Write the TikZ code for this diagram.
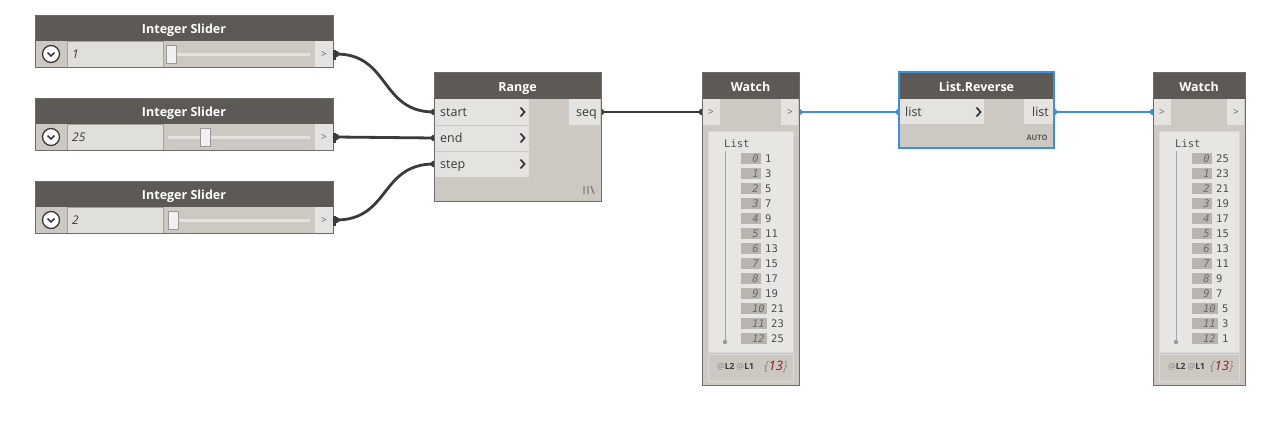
\documentclass[tikz,border=0pt]{standalone}
\usepackage{fontspec}
\setmainfont{Open Sans}
\newfontfamily\monof{DejaVu Sans Mono}
\definecolor{hdrc}{HTML}{5D5A56}
\definecolor{bodyc}{HTML}{CDC8C1}
\definecolor{rowc}{HTML}{E5E3DF}
\definecolor{bordc}{HTML}{6E6C69}
\definecolor{panelc}{HTML}{E8E6E2}
\definecolor{idxc}{HTML}{B8B5AF}
\definecolor{wirec}{HTML}{3C3B3A}
\definecolor{bluec}{HTML}{3D8FD8}
\definecolor{txtc}{HTML}{3A3A3A}
\definecolor{redc}{HTML}{8B1A1A}
\tikzset{
  hdrtext/.style={text=white,font=\fontsize{12.5}{14}\selectfont\bfseries,inner sep=0,anchor=base},
  porttext/.style={text=txtc,font=\fontsize{12.5}{14}\selectfont,inner sep=0},
  arrtext/.style={text=txtc!80,font=\fontsize{10}{12}\selectfont,inner sep=0},
  wire/.style={draw=wirec,line width=2.8},
  bwire/.style={draw=bluec,line width=2.8},
  chev/.style={draw=txtc,line width=1.8},
  monot/.style={font=\monof\fontsize{10.5}{12}\selectfont,inner sep=0,text=txtc!90},
  idxt/.style={font=\monof\itshape\fontsize{10.5}{12}\selectfont,inner sep=0,text=txtc!75},
}
\newcommand\slidernode[4]{%
  \fill[bodyc] (35,#2) rectangle (333,#2+52);
  \fill[hdrc] (35,#2) rectangle (333,#2+26);
  \filldraw[fill=rowc!85!bodyc,draw=bodyc!80!black] (67,#2+26) rectangle (163,#2+52);
  \fill[rowc] (315,#2+26) rectangle (333,#2+52);
  \draw[bordc,line width=0.8] (35,#2) rectangle (333,#2+52);
  \node[hdrtext] (#1) at (184,#2+18.5) {Integer Slider};
  \node[arrtext] (#1a) at (324,#2+39) {>};
  \draw[line width=3,draw=rowc] (168,#2+39) -- (310,#2+39);
  \filldraw[fill=white!94!black,draw=bordc!70] (#4-5,#2+30) rectangle (#4+5,#2+48);
  \filldraw[fill=white,draw=txtc,line width=1.3] (51,#2+39) circle (8.5);
  \draw[txtc,line width=1.5] (47.5,#2+37.5) -- (51,#2+41) -- (54.5,#2+37.5);
  \node[porttext,anchor=base west,font=\fontsize{12}{14}\selectfont\itshape] (#1v) at (72,#2+43.5) {#3};
  \coordinate (#1o) at (336,#2+39);
}
\newcommand\watchnode[4]{% name, left x, right x, list left offset
  \fill[bodyc] (#2,72) rectangle (#3,385);
  \fill[hdrc] (#2,72) rectangle (#3,99);
  \node[hdrtext] (#1) at ({(#2+#3)/2},91) {Watch};
  \fill[rowc] (#2+1,99) rectangle (#2+18,125);
  \fill[rowc] (#3-18,99) rectangle (#3-1,125);
  \node[arrtext] (#1in) at (#2+9,112) {>};
  \node[arrtext] (#1out) at (#3-9,112) {>};
  \filldraw[fill=panelc,draw=white!85!black] (#2+6,131) rectangle (#3-6,352);
  \draw[draw=white!85!black,fill=bodyc] (#2+6,354) rectangle (#3-6,381);
  \draw[bordc,line width=0.8] (#2,72) rectangle (#3,385);
  \node[monot,anchor=base west] (#1list) at (#2+#4,147) {List};
  \draw[draw=black!35,line width=0.9] (#2+#4+1,151) -- (#2+#4+1,342);
  \fill[black!40] (#2+#4+1,342) circle (2.2);
  \node[anchor=base west,inner sep=0,font=\fontsize{8.5}{10}\selectfont] (#1lv) at (#2+15,369.5) {\textcolor{black!45}{@}\textbf{\textcolor{txtc}{L2}} \textcolor{black!45}{@}\textbf{\textcolor{txtc}{L1}}};
  \node[anchor=base west,inner sep=0,font=\fontsize{13}{15}\selectfont\itshape] (#1cnt) at (#3-35,370.5) {\textcolor{black!45}{\{}\textcolor{redc}{13}\textcolor{black!45}{\}}};
}
\begin{document}
\begin{tikzpicture}[x=1pt,y=-1pt]
\useasboundingbox (0,0) rectangle (1280,426);
\fill[white] (0,0) rectangle (1280,426);

% port coordinates
\coordinate (rstart) at (434,112);
\coordinate (rend) at (434,138);
\coordinate (rstep) at (434,164);
\coordinate (rseq) at (601,112);
\coordinate (w1in) at (702,112);
\coordinate (w1o) at (799,112);
\coordinate (lrin) at (899,112);
\coordinate (lro) at (1054,112);
\coordinate (w2in) at (1153,112);

% sliders
\slidernode{sa}{15}{1}{171}
\slidernode{sb}{98}{25}{205}
\slidernode{sc}{181}{2}{173}

% wires
\draw[wire] (sao) .. controls (390,54) and (380,112) .. (rstart);
\draw[wire] (sbo) -- (rend);
\draw[wire] (sco) .. controls (390,220) and (380,164) .. (rstep);
\draw[wire] (rseq) -- (w1in);
\draw[bwire] (w1o) -- (lrin);
\draw[bwire] (lro) -- (w2in);

% port dots
\foreach \p in {sao,sbo,sco,rstart,rend,rstep,rseq,w1in}{\fill[wirec] (\p) circle (3.3);}
\foreach \p in {w1o,lrin,lro,w2in}{\fill[bluec] (\p) circle (3.3);}
\fill[wirec] (333,50) rectangle (336,60);
\fill[wirec] (333,133) rectangle (336,143);
\fill[wirec] (333,216) rectangle (336,226);

% Range node
\fill[bodyc] (434,72) rectangle (601,201);
\fill[hdrc] (434,72) rectangle (601,99);
\node[hdrtext] (range) at (517.5,91) {Range};
\fill[rowc] (435,99) rectangle (529,125);
\fill[rowc] (435,126) rectangle (529,151);
\fill[rowc] (435,152) rectangle (529,177);
\fill[rowc] (569,99) rectangle (600,125);
\node[porttext,anchor=base west] (lstart) at (440,116.8) {start};
\node[porttext,anchor=base west] (lend) at (440,142.8) {end};
\node[porttext,anchor=base west] (lstep) at (440,168.8) {step};
\node[porttext,anchor=base east] (lseq) at (597,116.8) {seq};
\foreach \yy in {112,138,164}{\draw[chev] (520.5,\yy-4.5) -- (524.5,\yy) -- (520.5,\yy+4.5);}
\draw[black!50,line width=1.3] (584,186) -- (584,194) (588,186) -- (588,194) (591,186) -- (594,194);
\draw[bordc,line width=0.8] (434,72) rectangle (601,201);

% Watch 1
\watchnode{wa}{702}{799}{22}
\foreach \i in {0,...,12}{
  \pgfmathsetmacro\bw{\i<10 ? 20 : 26}
  \pgfmathtruncatemacro\vv{2*\i+1}
  \pgfmathsetmacro\yc{158.5+15*\i}
  \fill[idxc] (741,\yc-5.5) rectangle (741+\bw,\yc+5.5);
  \node[idxt,anchor=base east] (wai\i) at (741+\bw-2,\yc+4) {\i};
  \node[monot,anchor=base west] (wav\i) at (741+\bw+4,\yc+4) {\vv};
}

% List.Reverse
\fill[bodyc] (899,72) rectangle (1054,148);
\fill[hdrc] (899,72) rectangle (1054,99);
\node[hdrtext] (lrev) at (976.5,91) {List.Reverse};
\fill[rowc] (900,99) rectangle (984,124);
\fill[rowc] (1024,99) rectangle (1053,124);
\node[porttext,anchor=base west] (llin) at (905,116.8) {list};
\node[porttext,anchor=base east] (llout) at (1049,116.8) {list};
\draw[chev] (976.5,107.5) -- (980.5,112) -- (976.5,116.5);
\node[inner sep=0,text=black!65,font=\fontsize{7.5}{8}\selectfont\bfseries] (auto) at (1037,138) {AUTO};
\draw[bluec,line width=1.6] (899,72) rectangle (1054,148);

% Watch 2
\watchnode{wb}{1153}{1245}{22}
\foreach \i in {0,...,12}{
  \pgfmathsetmacro\bw{\i<10 ? 20 : 26}
  \pgfmathtruncatemacro\vv{25-2*\i}
  \pgfmathsetmacro\yc{158.5+15*\i}
  \fill[idxc] (1192,\yc-5.5) rectangle (1192+\bw,\yc+5.5);
  \node[idxt,anchor=base east] (wbi\i) at (1192+\bw-2,\yc+4) {\i};
  \node[monot,anchor=base west] (wbv\i) at (1192+\bw+4,\yc+4) {\vv};
}
\end{tikzpicture}
\end{document}
